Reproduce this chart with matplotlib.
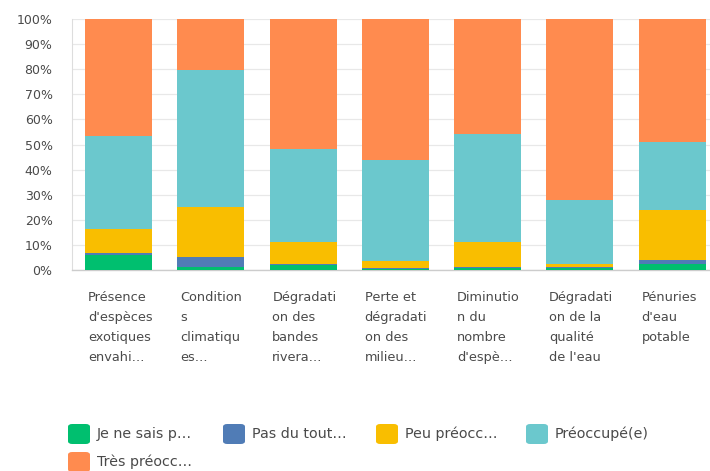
import matplotlib
matplotlib.use("Agg")
import matplotlib.pyplot as plt
from matplotlib.patches import FancyBboxPatch
from matplotlib.transforms import blended_transform_factory
import numpy as np

plt.rcParams['font.family'] = ['DejaVu Sans']

categories = [
    "Présence\nd'espèces\nexotiques\nenvahi…",
    "Condition\ns\nclimatiqu\nes…",
    "Dégradati\non des\nbandes\nrivera…",
    "Perte et\ndégradati\non des\nmilieu…",
    "Diminutio\nn du\nnombre\nd'espè…",
    "Dégradati\non de la\nqualité\nde l'eau",
    "Pénuries\nd'eau\npotable",
]
series_names = ["Je ne sais p…", "Pas du tout…", "Peu préocc…", "Préoccupé(e)", "Très préocc…"]
je_ne_sais = [6.1, 1.3, 2.0, 0.4, 0.6, 0.7, 2.3]
pas_du_tout = [0.8, 4.0, 0.3, 0.3, 0.7, 0.6, 1.7]
peu = [9.6, 19.9, 9.0, 3.0, 9.9, 1.1, 19.9]
preoccupe = [36.9, 54.5, 36.8, 40.1, 43.0, 25.5, 27.2]
tres = [46.6, 20.3, 51.9, 56.2, 45.8, 72.1, 48.9]
colors = ["#00BF6F", "#507CB6", "#F9BE00", "#6BC8CD", "#FF8B4F"]
yticks = [0, 10, 20, 30, 40, 50, 60, 70, 80, 90, 100]
ytick_labels = [f"{v}%" for v in yticks]

W, H = 710, 471
fig = plt.figure(figsize=(W / 100, H / 100), dpi=100)
ax = fig.add_axes([72 / W, (H - 270) / H, (710 - 72) / W, 251 / H])

x = np.arange(len(categories))
bw = 0.726
data = [je_ne_sais, pas_du_tout, peu, preoccupe, tres]
bottom = np.zeros(len(categories))
for vals, c in zip(data, colors):
    vals = np.array(vals)
    ax.bar(x, vals, bw, bottom=bottom, color=c, zorder=3, linewidth=0)
    bottom += vals

ax.set_ylim(0, 100)
ax.set_xlim(-0.504, 6.41)
ax.set_yticks(yticks)
ax.set_yticklabels(ytick_labels, fontsize=9, color="#4a4a4a")
ax.set_xticks([])
ax.tick_params(axis='y', length=0, pad=14)
ax.grid(axis='y', color="#e8e8e8", linewidth=0.9, zorder=0)
for s in ['top', 'right']:
    ax.spines[s].set_visible(False)
ax.spines['left'].set_color("#dddddd")
ax.spines['bottom'].set_color("#cccccc")
ax.spines['bottom'].set_linewidth(1.0)

trans = blended_transform_factory(ax.transData, fig.transFigure)
for i, lab in enumerate(categories):
    ax.text(i - bw / 2 + 0.03, 1 - 291 / H, lab, transform=trans, ha='left', va='top',
            fontsize=9.3, color="#4a4a4a", linespacing=1.7, clip_on=False)

# legend
items = [(68, 434), (223, 434), (376, 434), (526, 434), (68, 462)]
for (px, py), name, c in zip(items, series_names, colors):
    box = FancyBboxPatch((px / W, 1 - (py + 10) / H), 22 / W, 20 / H,
                         boxstyle="round,pad=0,rounding_size=0.006",
                         transform=fig.transFigure, facecolor=c, edgecolor='none')
    fig.add_artist(box)
    fig.text((px + 29) / W, 1 - py / H, name, ha='left', va='center', fontsize=10.3, color="#4a4a4a")

fig.savefig("out.png", dpi=100)
